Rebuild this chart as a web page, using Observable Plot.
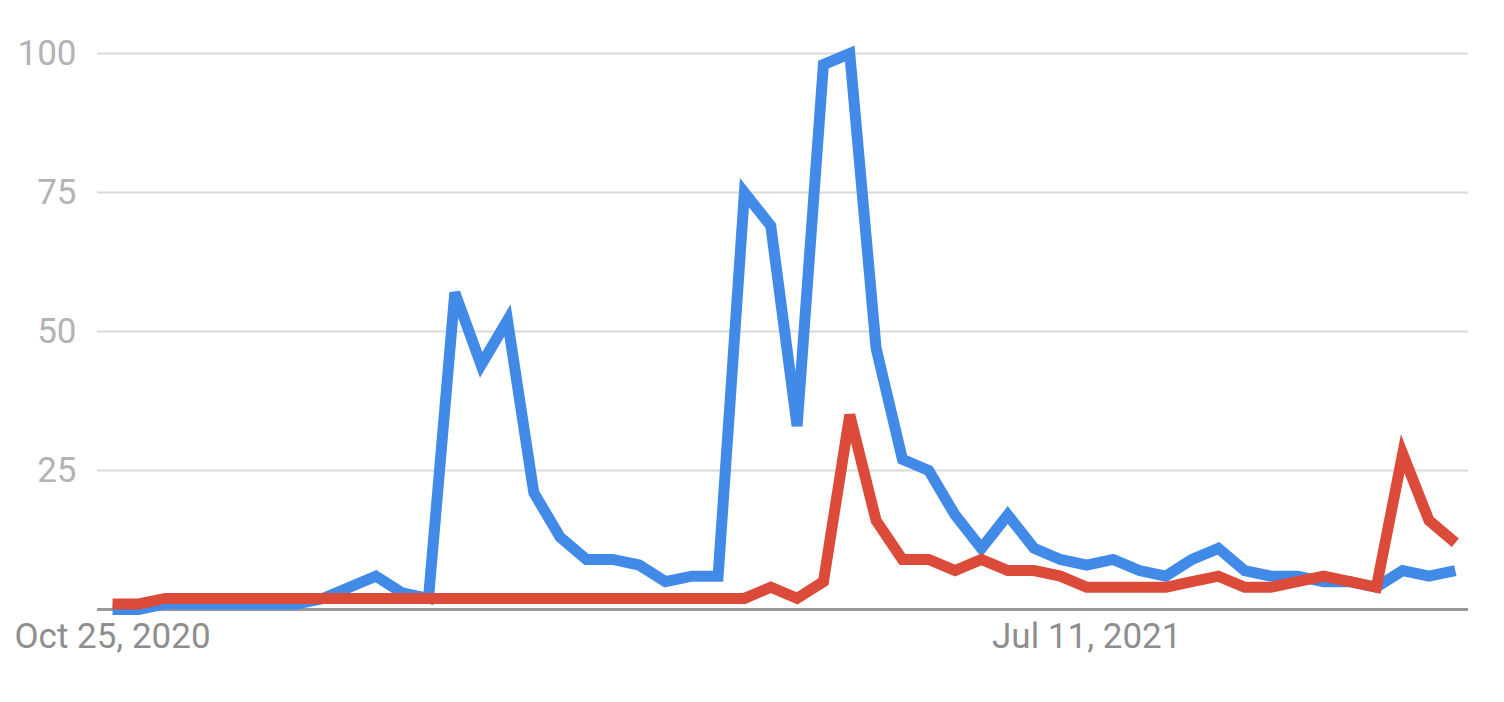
<!DOCTYPE html>
<html>
<head>
<meta charset="utf-8">
<script src="https://cdn.jsdelivr.net/npm/d3@7"></script>
<script src="https://cdn.jsdelivr.net/npm/@observablehq/plot@0.6"></script>
<style>
  html, body { margin: 0; padding: 0; background: #fff; }
  #chart svg { display: block; }
</style>
</head>
<body>
<div id="chart"></div>
<script>
// Weekly series starting on this date
const startDate = "2020-10-25";
const blueValues = [0,0,1,1,1,1,1,1,2,4,6,3,2,57,44,52,21,13,9,9,8,5,6,6,75,69,33,98,100,47,27,25,17,11,17,11,9,8,9,7,6,9,11,7,6,6,5,5,4,7,6,7];
const redValues = [1,1,2,2,2,2,2,2,2,2,2,2,2,2,2,2,2,2,2,2,2,2,2,2,2,4,2,5,35,16,9,9,7,9,7,7,6,4,4,4,4,5,6,4,4,5,6,5,4,28,16,12];
const yTicks = [25, 50, 75, 100];
const xTickDates = ["2020-10-25", "2021-07-11"];
const xTickLabels = ["Oct 25, 2020", "Jul 11, 2021"];

const start = new Date(startDate + "T00:00:00Z");
const weekDate = i => d3.utcWeek.offset(start, i);
const rows = [];
blueValues.forEach((v, i) => rows.push({date: weekDate(i), value: v, series: "blue"}));
redValues.forEach((v, i) => rows.push({date: weekDate(i), value: v, series: "red"}));
const blueRows = rows.filter(d => d.series === "blue");
const redRows = rows.filter(d => d.series === "red");
const lastDate = weekDate(blueValues.length - 1);
const tickDates = xTickDates.map(s => new Date(s + "T00:00:00Z"));
const labelOf = new Map(tickDates.map((d, i) => [+d, xTickLabels[i]]));

const lineStyle = {x: "date", y: "value", strokeWidth: 11, strokeLinejoin: "miter", strokeMiterlimit: 4, strokeLinecap: "butt"};

const chart = Plot.plot({
  width: 1504,
  height: 702,
  marginLeft: 97,
  marginRight: 36,
  marginTop: 53,
  marginBottom: 93,
  style: {fontFamily: "Roboto, 'Noto Sans', sans-serif", background: "#fff"},
  x: {type: "utc", domain: [d3.utcHour.offset(start, -96), d3.utcHour.offset(lastDate, 84)]},
  y: {domain: [0, 100]},
  marks: [
    Plot.gridY(yTicks, {stroke: "#d9d9d9", strokeOpacity: 1, strokeWidth: 2}),
    Plot.ruleY([0], {stroke: "#999999", strokeWidth: 3}),
    Plot.axisY(yTicks, {tickSize: 0, tickPadding: 21, fontSize: 35, fill: "#b3b3b3", label: null}),
    Plot.axisX(tickDates, {tickSize: 0, tickPadding: 14, fontSize: 35, fill: "#8e8e8e", label: null,
      tickFormat: d => labelOf.get(+d)}),
    Plot.lineY(blueRows, {...lineStyle, stroke: "#418ae8"}),
    Plot.lineY(redRows, {...lineStyle, stroke: "#dc4b39"})
  ]
});
document.getElementById("chart").appendChild(chart);
</script>
</body>
</html>
